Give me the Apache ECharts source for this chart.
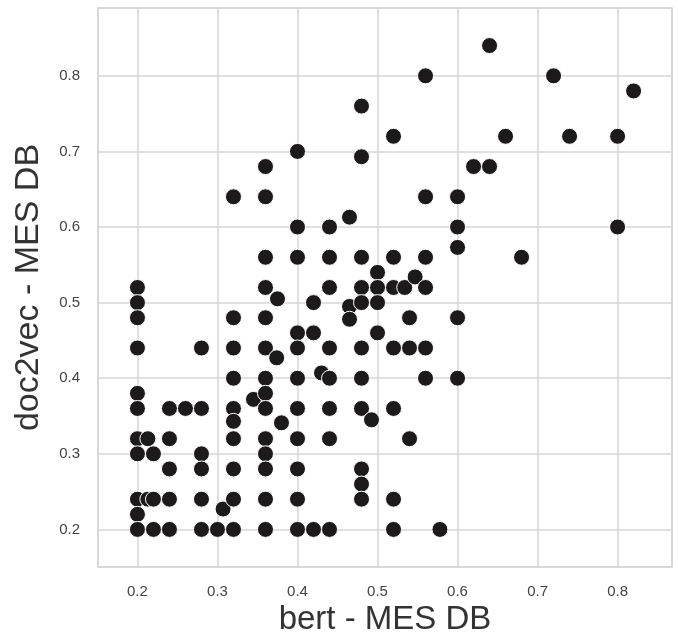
<!DOCTYPE html>
<html>
<head>
<meta charset="utf-8">
<script src="https://cdn.jsdelivr.net/npm/echarts@6/dist/echarts.min.js"></script>
<style>
  html, body { margin: 0; padding: 0; background: #fff; }
  #main { width: 678px; height: 639px; }
</style>
</head>
<body>
<div id="main"></div>
<script>
// bert score (x) / doc2vec score (y)
var bert = [
  0.2, 0.2, 0.2, 0.2, 0.2, 0.2, 0.2, 0.2, 0.2, 0.2, 0.2,
  0.213, 0.213,
  0.22, 0.22, 0.22,
  0.24, 0.24, 0.24, 0.24, 0.24,
  0.26,
  0.28, 0.28, 0.28, 0.28, 0.28, 0.28,
  0.3, 0.307,
  0.32, 0.32, 0.32, 0.32, 0.32, 0.32, 0.32, 0.32, 0.32, 0.32,
  0.345,
  0.36, 0.36, 0.36, 0.36, 0.36, 0.36, 0.36, 0.36, 0.36, 0.36, 0.36, 0.36, 0.36, 0.36,
  0.374, 0.375, 0.38,
  0.4, 0.4, 0.4, 0.4, 0.4, 0.4, 0.4, 0.4, 0.4, 0.4, 0.4,
  0.42, 0.42, 0.42,
  0.43,
  0.44, 0.44, 0.44, 0.44, 0.44, 0.44, 0.44, 0.44,
  0.465, 0.465, 0.465,
  0.48, 0.48, 0.48, 0.48, 0.48, 0.48, 0.48, 0.48, 0.48, 0.48, 0.48,
  0.4925,
  0.5, 0.5, 0.5, 0.5,
  0.52, 0.52, 0.52, 0.52, 0.52, 0.52, 0.52,
  0.534,
  0.54, 0.54, 0.54,
  0.547,
  0.56, 0.56, 0.56, 0.56, 0.56, 0.56,
  0.578,
  0.6, 0.6, 0.6, 0.6, 0.6,
  0.62, 0.64, 0.64, 0.66, 0.68, 0.72, 0.74, 0.8, 0.8, 0.82
];
var doc2vec = [
  0.52, 0.5, 0.48, 0.44, 0.38, 0.36, 0.32, 0.3, 0.24, 0.22, 0.2,
  0.32, 0.24,
  0.3, 0.24, 0.2,
  0.36, 0.32, 0.28, 0.24, 0.2,
  0.36,
  0.44, 0.36, 0.3, 0.28, 0.24, 0.2,
  0.2, 0.227,
  0.64, 0.48, 0.44, 0.4, 0.36, 0.343, 0.32, 0.28, 0.24, 0.2,
  0.372,
  0.68, 0.64, 0.56, 0.52, 0.48, 0.44, 0.4, 0.38, 0.36, 0.32, 0.3, 0.28, 0.24, 0.2,
  0.427, 0.505, 0.341,
  0.7, 0.6, 0.56, 0.46, 0.44, 0.4, 0.36, 0.32, 0.28, 0.24, 0.2,
  0.5, 0.46, 0.2,
  0.407,
  0.6, 0.56, 0.52, 0.44, 0.4, 0.36, 0.32, 0.2,
  0.613, 0.495, 0.478,
  0.76, 0.693, 0.56, 0.52, 0.5, 0.44, 0.4, 0.36, 0.28, 0.26, 0.24,
  0.345,
  0.54, 0.52, 0.5, 0.46,
  0.72, 0.56, 0.52, 0.44, 0.36, 0.24, 0.2,
  0.52,
  0.48, 0.44, 0.32,
  0.534,
  0.8, 0.64, 0.56, 0.52, 0.44, 0.4,
  0.2,
  0.64, 0.6, 0.573, 0.48, 0.4,
  0.68, 0.84, 0.68, 0.72, 0.56, 0.8, 0.72, 0.72, 0.6, 0.78
];

var points = [];
for (var i = 0; i < bert.length; i++) {
  points.push([bert[i], doc2vec[i]]);
}

var gridColor = '#d6d6d6';
var labelFont = "'Liberation Sans Narrow', 'Liberation Sans', sans-serif";
var myChart = echarts.init(document.getElementById('main'));
var option = {
  backgroundColor: '#fff',
  animation: false,
  grid: {
    left: 98, right: 6, top: 8, bottom: 72,
    outerBoundsMode: 'none',
    show: true,
    borderColor: gridColor,
    borderWidth: 1.5
  },
  xAxis: {
    type: 'value',
    min: 0.1507,
    max: 0.868,
    splitNumber: 7,
    minInterval: 0.1,
    maxInterval: 0.1,
    name: 'bert - MES DB',
    nameLocation: 'middle',
    nameGap: 27,
    nameTextStyle: { fontFamily: 'Liberation Sans', fontSize: 33, color: '#333' },
    axisLine: { show: false },
    axisTick: { show: false },
    axisLabel: {
      showMinLabel: false, showMaxLabel: false,
      margin: 17,
      fontFamily: labelFont, fontSize: 15, color: '#444',
      formatter: function (v) { return v.toFixed(1); }
    },
    splitLine: { lineStyle: { color: gridColor, width: 1.5 } }
  },
  yAxis: {
    type: 'value',
    min: 0.1503,
    max: 0.8897,
    splitNumber: 7,
    minInterval: 0.1,
    maxInterval: 0.1,
    name: 'doc2vec - MES DB',
    nameLocation: 'middle',
    nameGap: 52,
    nameTextStyle: { fontFamily: 'Liberation Sans', fontSize: 34, color: '#333' },
    axisLine: { show: false },
    axisTick: { show: false },
    axisLabel: {
      showMinLabel: false, showMaxLabel: false,
      margin: 18,
      fontFamily: labelFont, fontSize: 15, color: '#444',
      formatter: function (v) { return v.toFixed(1); }
    },
    splitLine: { lineStyle: { color: gridColor, width: 1.5 } }
  },
  series: [
    {
      type: 'scatter',
      data: points,
      symbol: 'circle',
      symbolSize: 16,
      itemStyle: {
        color: '#1c1a1b',
        opacity: 1,
        borderColor: '#fff',
        borderWidth: 1
      }
    }
  ]
};
myChart.setOption(option);
</script>
</body>
</html>
